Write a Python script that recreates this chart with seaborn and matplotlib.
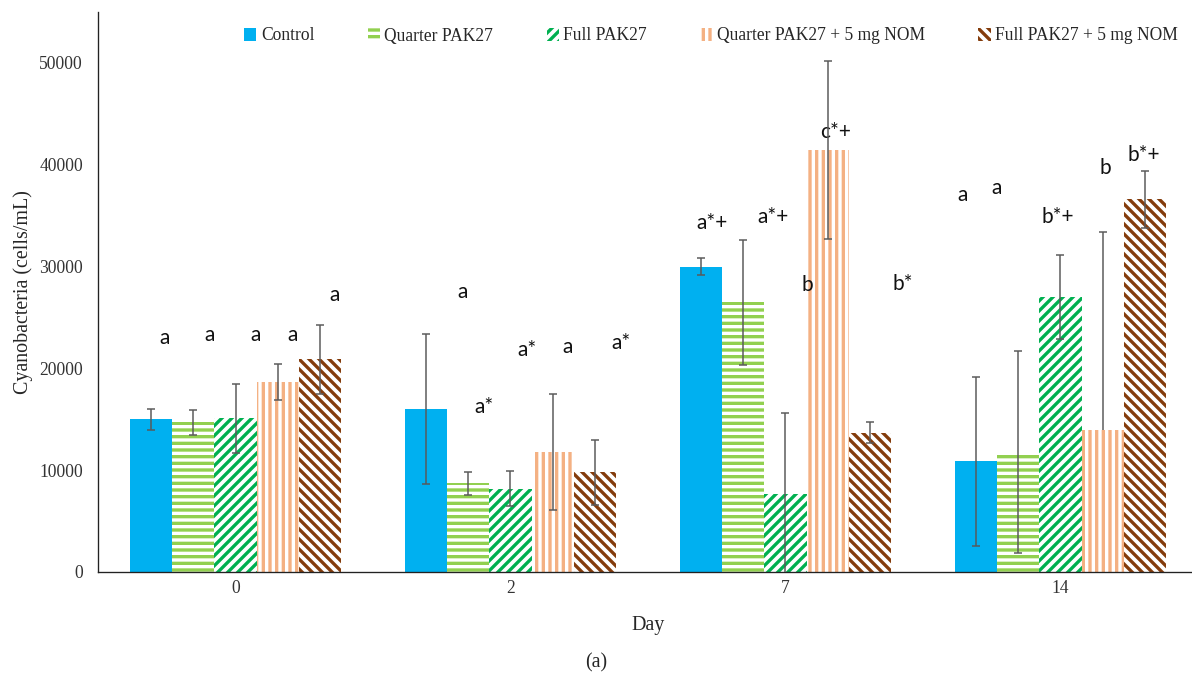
import numpy as np
import pandas as pd
import matplotlib
matplotlib.use("Agg")
import matplotlib.pyplot as plt
import seaborn as sns

# ---- data ----
days = ["0", "2", "7", "14"]
treatments = ["Control", "Quarter PAK27", "Full PAK27",
              "Quarter PAK27 + 5 mg NOM", "Full PAK27 + 5 mg NOM"]

control     = [15000, 16000, 30000, 10900]
quarter     = [14700,  8700, 26500, 11800]
full        = [15100,  8200,  7700, 27000]
quarter_nom = [18650, 11800, 41450, 13950]
full_nom    = [20900,  9800, 13700, 36600]

control_err      = [1050, 7400,  800,  8300]
quarter_err      = [1200, 1100, 6150,  9900]
full_err         = [3400, 1700, 7950,  4100]
quarter_nom_up   = [1800, 5700, 8700, 19400]
quarter_nom_down = [1800, 5700, 8700,     0]
full_nom_err     = [3400, 3200, 1000,  2800]

control_lbl     = ["a", "a",  "a*+", "a"]
quarter_lbl     = ["a", "a*", "a*+", "a"]
full_lbl        = ["a", "a*", "b",   "b*+"]
quarter_nom_lbl = ["a", "a",  "c*+", "b"]
full_nom_lbl    = ["a", "a*", "b*",  "b*+"]

# ---- layout of the significance letters (x in bar widths from bar centre, y in data units) ----
lbl_dx = [[0.31, 0.86, 0.24, -0.33],
          [0.38, 0.38, 0.71, -0.52],
          [0.48, 0.40, 0.52, -0.07],
          [0.36, 0.36, 0.19,  0.07],
          [0.36, 0.62, 0.79, -0.02]]
lbl_y = [[23000, 27500, 34300, 37000],
         [23300, 16200, 34900, 37700],
         [23300, 21800, 28200, 34900],
         [23300, 22100, 43200, 39700],
         [27200, 22500, 28250, 41000]]

COLORS  = ["#00b0f0", "#92d050", "#00b050", "#f4b183", "#843c0c"]
HATCHES = [None, "---", "////", "|||", "\\\\\\\\"]
ERRC    = "#595959"

sns.set_style("white")
plt.rcParams["font.family"] = ["Liberation Serif", "DejaVu Serif"]
plt.rcParams["hatch.linewidth"] = 2.0

values = control + quarter + full + quarter_nom + full_nom
df = pd.DataFrame({
    "Day": days * len(treatments),
    "Treatment": np.repeat(treatments, len(days)),
    "Cells": values,
})

DPI = 120
fig = plt.figure(figsize=(1192 / DPI, 678 / DPI), dpi=DPI)
fig.patch.set_facecolor("white")
ax = fig.add_axes([98 / 1192, 106 / 678, 1100 / 1192, 560 / 678])

sns.barplot(data=df, x="Day", y="Cells", hue="Treatment", order=days,
            hue_order=treatments, palette=COLORS, saturation=1, width=0.764,
            errorbar=None, legend=False, ax=ax)

err_up = [control_err, quarter_err, full_err, quarter_nom_up, full_nom_err]
err_dn = [control_err, quarter_err, full_err, quarter_nom_down, full_nom_err]
means = [control, quarter, full, quarter_nom, full_nom]
labels = [control_lbl, quarter_lbl, full_lbl, quarter_nom_lbl, full_nom_lbl]

bar_sets = [list(c) for c in ax.containers]

for k, bars in enumerate(bar_sets):
    for p in bars:
        p.set_linewidth(0)
        if HATCHES[k]:
            p.set_facecolor("white")
            p.set_edgecolor(COLORS[k])
            p.set_hatch(HATCHES[k])
            if hasattr(p, "set_hatchcolor"):
                p.set_hatchcolor(COLORS[k])
        else:
            p.set_facecolor(COLORS[k])
            p.set_edgecolor(COLORS[k])
    xs = np.array([b.get_x() + b.get_width() / 2 for b in bars])
    w = bars[0].get_width()
    m = np.array(means[k])
    lo = np.array(err_dn[k])
    hi = np.array(err_up[k])
    ax.errorbar(xs, m, yerr=[lo, hi], fmt="none", ecolor=ERRC,
                elinewidth=0.9, capsize=0, zorder=5)
    ax.plot(xs, m + hi, ls="none", marker="_", ms=5, mew=0.9, color=ERRC, zorder=5)
    keep = lo > 0
    ax.plot(xs[keep], (m - lo)[keep], ls="none", marker="_", ms=5, mew=0.9,
            color=ERRC, zorder=5)
    for j in range(len(days)):
        ax.text(xs[j] + lbl_dx[k][j] * w, lbl_y[k][j], labels[k][j],
                ha="center", va="center", fontsize=12.5, family="Lato",
                color="#111111")

ax.set_xlim(-0.5, 3.5)
ax.set_ylim(0, 55000)
ax.set_yticks(range(0, 50001, 10000))
ax.set_xticks(range(len(days)))
ax.set_xticklabels(days)
ax.set_xticks([0.5, 1.5, 2.5], minor=True)
ax.tick_params(axis="x", which="major", length=0, pad=5, labelsize=10.5,
               labelcolor="#333333")
ax.tick_params(axis="x", which="minor", length=4, width=0.8, direction="out",
               color="#222222")
ax.tick_params(axis="y", length=4, width=0.8, direction="out", pad=5,
               labelsize=10.5, labelcolor="#333333", color="#222222")
ax.set_ylabel("Cyanobacteria (cells/mL)", fontsize=12, labelpad=4)
ax.set_xlabel("Day", fontsize=12, labelpad=11)
for s in ["top", "right"]:
    ax.spines[s].set_visible(False)
for s in ["left", "bottom"]:
    ax.spines[s].set_color("#222222")
    ax.spines[s].set_linewidth(0.8)

handles = [bars[0] for bars in bar_sets]
fig.legend(handles, treatments, loc="center",
           bbox_to_anchor=(711 / 1192, 1 - 36 / 678), ncol=5, frameon=False,
           handlelength=0.7, handleheight=0.7, handletextpad=0.25,
           columnspacing=3.05, fontsize=10.5)

fig.text(596 / 1192, 1 - 663 / 678, "(a)", ha="center", va="center", fontsize=12)

fig.savefig("out.png", dpi=DPI, facecolor="white")
